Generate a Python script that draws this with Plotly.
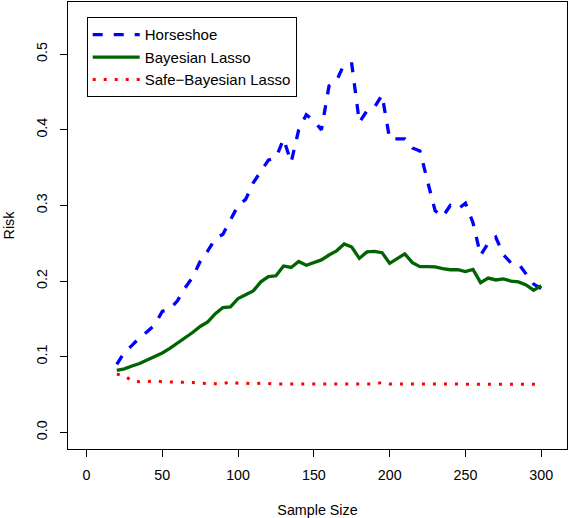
import plotly.graph_objects as go

sample_size = [20, 25, 30, 35, 40, 45, 50, 55, 60, 65, 70, 75, 80, 85, 90, 95,
               100, 105, 110, 115, 120, 125, 130, 135, 140, 145, 150, 155, 160,
               165, 170, 175, 180, 185, 190, 195, 200, 205, 210, 215, 220, 225,
               230, 235, 240, 245, 250, 255, 260, 265, 270, 275, 280, 285, 290,
               295, 300]

horseshoe = [0.090, 0.106, 0.115, 0.125, 0.133, 0.142, 0.160, 0.163, 0.174,
             0.191, 0.205, 0.226, 0.240, 0.256, 0.262, 0.280, 0.300, 0.308,
             0.330, 0.345, 0.360, 0.363, 0.388, 0.357, 0.400, 0.420, 0.412,
             0.400, 0.458, 0.465, 0.487, 0.487, 0.410, 0.425, 0.430, 0.446,
             0.388, 0.388, 0.388, 0.376, 0.372, 0.332, 0.293, 0.285, 0.300,
             0.295, 0.303, 0.277, 0.234, 0.250, 0.258, 0.235, 0.224, 0.223,
             0.209, 0.196, 0.190]

bayesian_lasso = [0.082, 0.084, 0.0877, 0.091, 0.0956, 0.100, 0.105, 0.111,
                  0.118, 0.124, 0.132, 0.140, 0.146, 0.157, 0.165, 0.166,
                  0.177, 0.182, 0.187, 0.199, 0.206, 0.207, 0.220, 0.218,
                  0.226, 0.221, 0.224, 0.228, 0.2345, 0.240, 0.249, 0.245,
                  0.230, 0.2385, 0.2394, 0.2376, 0.2235, 0.230, 0.236, 0.2244,
                  0.219, 0.219, 0.2187, 0.2165, 0.215, 0.215, 0.2125, 0.2155,
                  0.198, 0.204, 0.2015, 0.203, 0.200, 0.199, 0.195, 0.188,
                  0.194]

safe_bayesian_lasso = [0.077, 0.075, 0.068, 0.067, 0.067, 0.068, 0.067, 0.067,
                       0.066, 0.066, 0.066, 0.065, 0.065, 0.065, 0.064, 0.067,
                       0.065, 0.065, 0.064, 0.065, 0.064, 0.064, 0.064, 0.064,
                       0.064, 0.064, 0.064, 0.064, 0.064, 0.064, 0.064, 0.064,
                       0.064, 0.064, 0.064, 0.066, 0.064, 0.064, 0.064, 0.064,
                       0.064, 0.064, 0.064, 0.064, 0.064, 0.064, 0.064, 0.0635,
                       0.0635, 0.0635, 0.0635, 0.0635, 0.0635, 0.0635, 0.0635,
                       0.0635, 0.0635]

x_ticks = [0, 50, 100, 150, 200, 250, 300]
y_ticks = [0.0, 0.1, 0.2, 0.3, 0.4, 0.5]
y_tick_labels = ["0.0", "0.1", "0.2", "0.3", "0.4", "0.5"]

FONT = "Liberation Sans, Arial, Helvetica, sans-serif"

fig = go.Figure()
fig.add_trace(go.Scatter(x=sample_size, y=horseshoe, mode="lines", name="Horseshoe",
                         line=dict(color="#0000FF", width=3.3, dash="10px,11px")))
fig.add_trace(go.Scatter(x=sample_size, y=bayesian_lasso, mode="lines", name="Bayesian Lasso",
                         line=dict(color="#006400", width=3.3)))
fig.add_trace(go.Scatter(x=sample_size, y=safe_bayesian_lasso, mode="lines",
                         name="Safe\u2212Bayesian Lasso",
                         line=dict(color="#FF0000", width=3, dash="3px,8px")))

axis_common = dict(showline=True, mirror=True, linecolor="black", linewidth=1,
                   ticks="outside", ticklen=7, tickwidth=1, tickcolor="black",
                   showgrid=False, zeroline=False, automargin=False,
                   tickfont=dict(family=FONT, size=14.3, color="black"))

fig.update_layout(
    width=570, height=518,
    margin=dict(l=68, r=3, t=2, b=69),
    plot_bgcolor="white", paper_bgcolor="white",
    font=dict(family=FONT, size=14.3, color="black"),
    xaxis=dict(range=[-12.2, 317], tickvals=x_ticks, ticklabelstandoff=6,
               title=dict(text="Sample Size", font=dict(family=FONT, size=14.3), standoff=22),
               **axis_common),
    yaxis=dict(range=[-0.022, 0.569], tickvals=y_ticks, ticktext=y_tick_labels,
               tickangle=-90, ticklabelstandoff=7,
               title=dict(text="Risk", font=dict(family=FONT, size=14.3), standoff=16),
               **axis_common),
    legend=dict(x=0.0375, y=0.9658, xanchor="left", yanchor="top",
                bordercolor="black", borderwidth=1, bgcolor="white",
                font=dict(family=FONT, size=15, color="black"),
                itemwidth=47, tracegroupgap=0),
    showlegend=True,
)

fig.write_html("out.html",
               config={"displayModeBar": False},
               post_script="document.documentElement.style.margin='0';"
                           "document.body.style.margin='0';"
                           "document.body.style.overflow='hidden';")
